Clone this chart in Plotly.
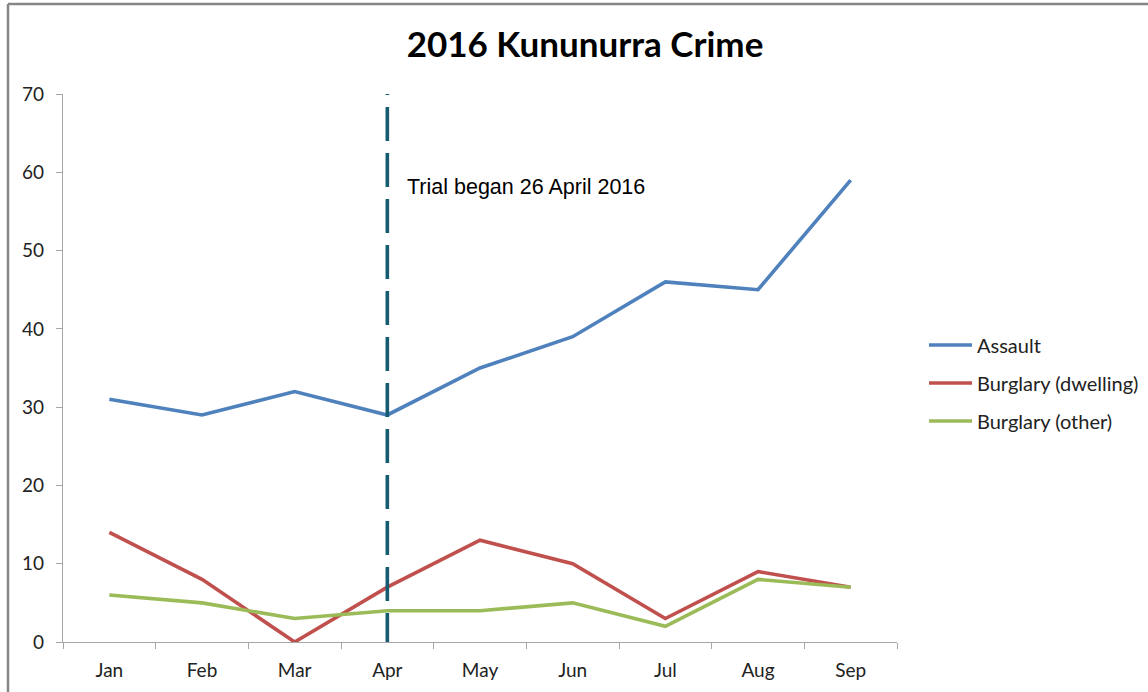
import plotly.graph_objects as go

months = ["Jan", "Feb", "Mar", "Apr", "May", "Jun", "Jul", "Aug", "Sep"]
assault = [31, 29, 32, 29, 35, 39, 46, 45, 59]
burglary_dwelling = [14, 8, 0, 7, 13, 10, 3, 9, 7]
burglary_other = [6, 5, 3, 4, 4, 5, 2, 8, 7]
y_ticks = [0, 10, 20, 30, 40, 50, 60, 70]
trial_month = "Apr"
trial_span = [-0.65, 70]
trial_label = "Trial began 26 April 2016"

W, H = 1148, 692
L, R, T, B = 63, 897, 94, 642

fig = go.Figure()
series = [
    ("Assault", assault, "#4F81BD"),
    ("Burglary (dwelling)", burglary_dwelling, "#C0504D"),
    ("Burglary (other)", burglary_other, "#9BBB59"),
]
for name, vals, col in series:
    fig.add_trace(go.Scatter(
        x=months, y=vals, name=name, mode="lines",
        line=dict(color=col, width=3.6), legendgroup=name,
    ))

fig.add_trace(go.Scatter(
    x=[trial_month, trial_month], y=trial_span, mode="lines",
    line=dict(color="#155C72", width=3.6, dash="34px,12px"),
    showlegend=False, hoverinfo="skip", cliponaxis=False,
))

fig.add_annotation(
    x=(405 - L) / (R - L), y=(B - 187) / (B - T), xref="paper", yref="paper",
    text=trial_label, showarrow=False, xanchor="left", yanchor="middle",
    font=dict(family="Liberation Sans, Arial", size=21.5, color="#000000"),
)

axis_font = dict(family="Lato, Calibri, sans-serif", size=19, color="#222222")
fig.update_xaxes(
    type="category", categoryorder="array", categoryarray=months,
    range=[-0.5, len(months) - 0.5],
    showline=True, linecolor="#A6A6A6", linewidth=1.3,
    ticks="outside", tickson="boundaries", ticklen=6, tickcolor="#A6A6A6", tickwidth=1.3,
    showgrid=False, zeroline=False, tickfont=axis_font, ticklabelstandoff=11,
)
fig.update_yaxes(
    range=[0, 70], tickvals=y_ticks, showline=True, linecolor="#A6A6A6", linewidth=1.3,
    ticks="outside", ticklen=6, tickcolor="#A6A6A6", tickwidth=1.3,
    showgrid=False, zeroline=False, tickfont=axis_font, ticklabelstandoff=8,
)

fig.update_layout(
    width=W, height=H,
    margin=dict(l=L, r=W - R, t=T, b=H - B, autoexpand=False),
    paper_bgcolor="white", plot_bgcolor="white",
    title=dict(
        text="<b>2016 Kununurra Crime</b>", x=585 / W, xanchor="center",
        y=1 - 45 / H, yanchor="middle",
        font=dict(family="Lato, Calibri, sans-serif", size=35, color="#000000"),
    ),
    legend=dict(
        x=(924 - L) / (R - L), xanchor="left", y=(B - 383) / (B - T), yanchor="middle",
        font=dict(family="Lato, Calibri, sans-serif", size=20, color="#222222"),
        traceorder="grouped", tracegroupgap=9, bgcolor="rgba(0,0,0,0)",
        itemwidth=43,
    ),
    showlegend=True,
)

# chart border (top and left edges visible)
fig.add_shape(type="line", xref="paper", yref="paper",
              x0=(8 - L) / (R - L), x1=(W + 5 - L) / (R - L),
              y0=(B - 4) / (B - T), y1=(B - 4) / (B - T),
              line=dict(color="#868686", width=2.5))
fig.add_shape(type="line", xref="paper", yref="paper",
              x0=(8 - L) / (R - L), x1=(8 - L) / (R - L),
              y0=(B - 4) / (B - T), y1=(B - H - 5) / (B - T),
              line=dict(color="#868686", width=2.5))

fig.write_html("out.html", config={"displayModeBar": False},
               post_script="document.body.style.margin='0px';")
